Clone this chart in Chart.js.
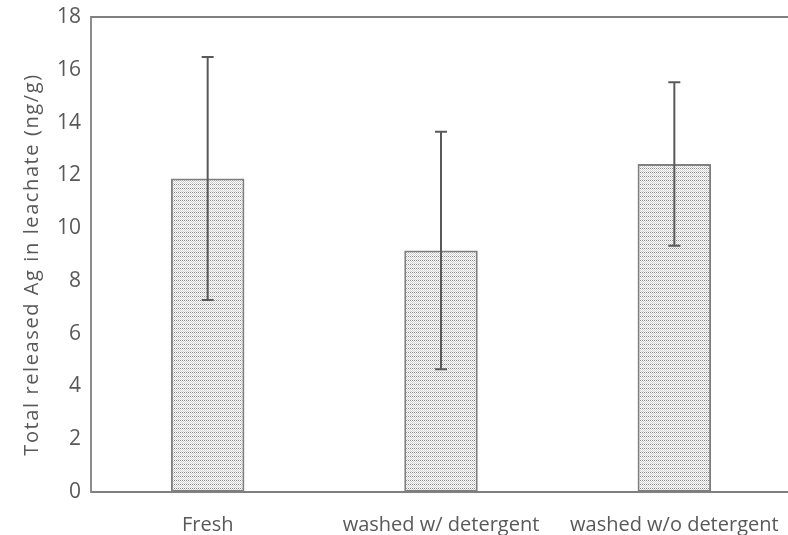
<!DOCTYPE html>
<html>
<head>
<meta charset="utf-8">
<script src="https://cdn.jsdelivr.net/npm/chart.js@4"></script>
<style>
html,body{margin:0;padding:0;background:#fff;overflow:hidden;}
canvas{display:block;}
</style>
</head>
<body>
<canvas id="c" width="791" height="535"></canvas>
<script>
const categories = ["Fresh", "washed w/ detergent", "washed w/o detergent"];
const releasedAg = [11.88, 9.15, 12.43];
const errorAg = [4.6, 4.5, 3.1];
const yTicks = [0, 2, 4, 6, 8, 10, 12, 14, 16, 18];
const yTitle = "Total released Ag in leachate (ng/g)";

function makePattern() {
  const p = document.createElement('canvas');
  p.width = 4; p.height = 4;
  const g = p.getContext('2d');
  g.fillStyle = '#ffffff'; g.fillRect(0,0,4,4);
  g.fillStyle = '#cfcfcf';
  for (let y=0;y<4;y++) for (let x=0;x<4;x++) if ((x+y)%2===0) g.fillRect(x,y,1,1);
  g.fillStyle = '#8a8a8a';
  g.fillRect(0,0,1,1); g.fillRect(2,0,1,1);
  return document.getElementById('c').getContext('2d').createPattern(p,'repeat');
}

const errorBars = {
  id: 'errorBars',
  afterDatasetsDraw(chart) {
    const ctx = chart.ctx;
    const meta = chart.getDatasetMeta(0);
    const ys = chart.scales.y;
    ctx.save();
    ctx.strokeStyle = '#595959';
    ctx.lineWidth = 2;
    meta.data.forEach((bar, i) => {
      const x = bar.x;
      const top = ys.getPixelForValue(releasedAg[i] + errorAg[i]);
      const bot = ys.getPixelForValue(releasedAg[i] - errorAg[i]);
      ctx.beginPath();
      ctx.moveTo(x, top); ctx.lineTo(x, bot);
      ctx.moveTo(x-6, top); ctx.lineTo(x+6, top);
      ctx.moveTo(x-6, bot); ctx.lineTo(x+6, bot);
      ctx.stroke();
    });
    ctx.restore();
  }
};

const frame = {
  id: 'frame',
  afterDraw(chart) {
    const a = chart.chartArea, ctx = chart.ctx;
    ctx.save();
    ctx.strokeStyle = '#7f7f7f';
    ctx.lineWidth = 2;
    ctx.beginPath();
    ctx.moveTo(a.left, a.top); ctx.lineTo(a.right + 5, a.top);
    ctx.moveTo(a.right, a.top); ctx.lineTo(a.right, a.bottom);
    ctx.stroke();
    ctx.restore();
  }
};

const chart = new Chart(document.getElementById('c'), {
  type: 'bar',
  data: {
    labels: categories,
    datasets: [{
      data: releasedAg,
      backgroundColor: makePattern(),
      borderColor: '#7f7f7f',
      borderWidth: 2,
      borderSkipped: false,
      categoryPercentage: 1,
      barPercentage: 0.315
    }]
  },
  options: {
    responsive: false,
    animation: false,
    layout: { padding: { top: 17, right: 0, bottom: 0, left: 0 } },
    plugins: { legend: { display: false }, tooltip: { enabled: false } },
    scales: {
      x: {
        afterFit(s) { s.height = 43; s.paddingLeft = 0; s.paddingRight = 0; },
        grid: { display: false, drawTicks: false },
        border: { display: true, color: '#7f7f7f', width: 2 },
        ticks: { color: '#595959', font: { family: 'Open Sans', size: 20 }, padding: 21, maxRotation: 0, autoSkip: false }
      },
      y: {
        min: 0, max: 18,
        afterBuildTicks(s) { s.ticks = yTicks.map(v => ({ value: v })); },
        afterFit(s) { s.width = 91; s.paddingTop = 0; s.paddingBottom = 0; },
        grid: { display: false, drawTicks: false },
        border: { display: true, color: '#8c8c8c', width: 2 },
        ticks: { color: '#595959', font: { family: 'Open Sans', size: 21 }, padding: 10 },
        title: { display: true, text: yTitle, color: '#595959', font: { family: 'Open Sans', size: 20 }, padding: { top: 20, bottom: 0 } }
      }
    }
  },
  plugins: [errorBars, frame]
});

const ys = chart.scales.y;
const origDrawTitle = ys.drawTitle;
ys.drawTitle = function () {
  const ctx = this.ctx;
  ctx.save();
  ctx.letterSpacing = '1.6px';
  ctx.translate(0, 10);
  origDrawTitle.apply(this, arguments);
  ctx.restore();
};
chart.render();
</script>
</body>
</html>
